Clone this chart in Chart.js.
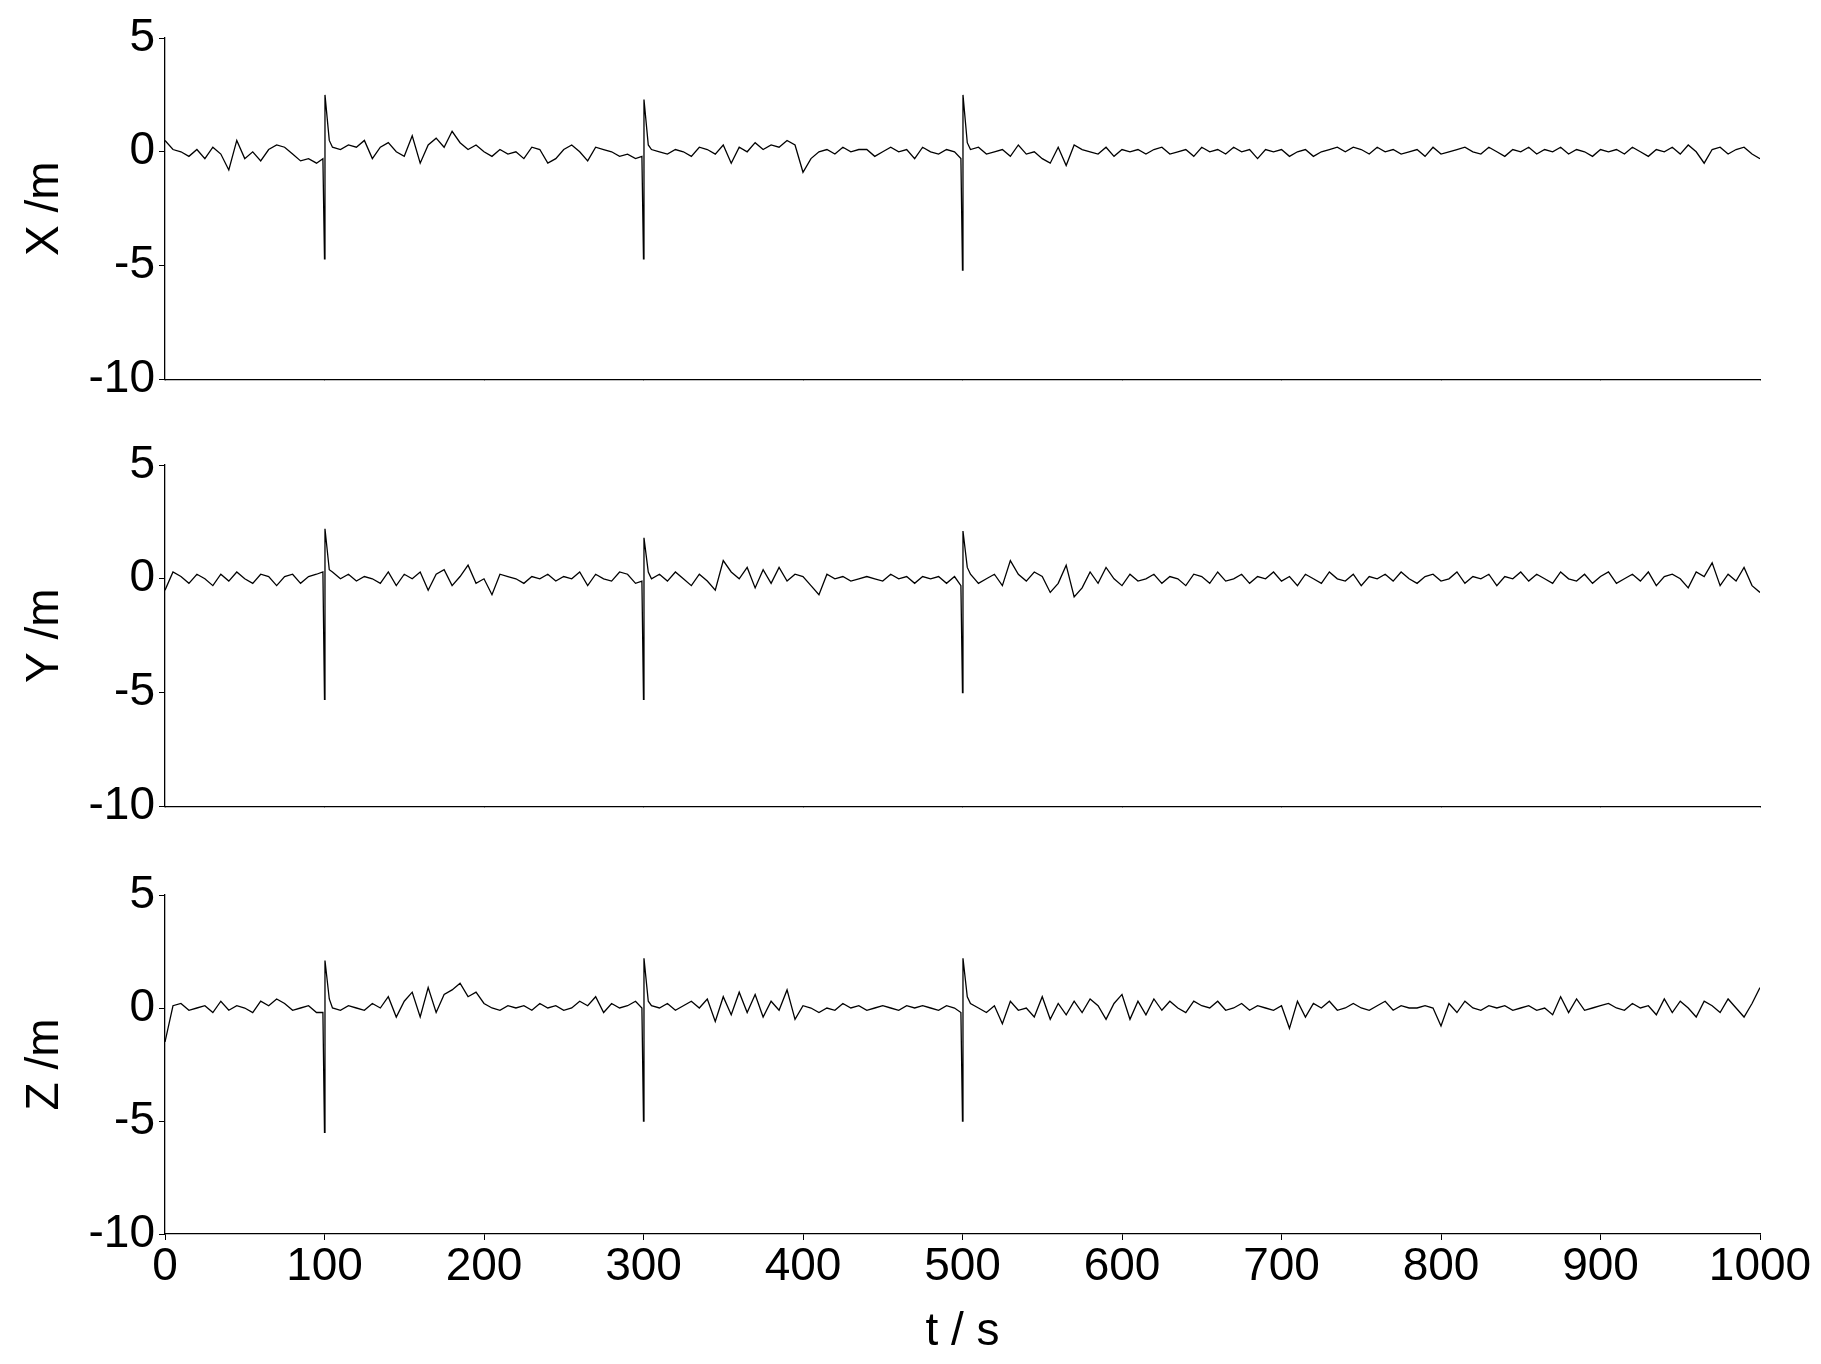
<!DOCTYPE html>
<html><head><meta charset="utf-8">
<script src="https://cdn.jsdelivr.net/npm/chart.js@4/dist/chart.umd.min.js"></script>
<style>body{margin:0;background:#fff;width:1821px;height:1364px;position:relative;overflow:hidden}
canvas{position:absolute;left:0}</style></head><body>
<div id="c1" style="position:absolute;left:0;top:0;width:1821px;height:411px"><canvas id="a"></canvas></div>
<div id="c2" style="position:absolute;left:0;top:418px;width:1821px;height:420px"><canvas id="b"></canvas></div>
<div id="c3" style="position:absolute;left:0;top:850px;width:1821px;height:514px"><canvas id="c"></canvas></div>
<script>
const timeS=[0,5,10,15,20,25,30,35,40,45,50,55,60,65,70,75,80,85,90,95,
99,100,100.3,103,
105,110,115,120,125,130,135,140,145,150,155,160,165,170,175,180,185,190,195,200,205,210,215,220,225,230,235,240,245,250,255,260,265,270,275,280,285,290,295,
299,300,300.3,303,
305,310,315,320,325,330,335,340,345,350,355,360,365,370,375,380,385,390,395,400,405,410,415,420,425,430,435,440,445,450,455,460,465,470,475,480,485,490,495,
499,500,500.3,503,
505,510,515,520,525,530,535,540,545,550,555,560,565,570,575,580,585,590,595,600,605,610,615,620,625,630,635,640,645,650,655,660,665,670,675,680,685,690,695,700,
705,710,715,720,725,730,735,740,745,750,755,760,765,770,775,780,785,790,795,800,805,810,815,820,825,830,835,840,845,850,855,860,865,870,875,880,885,890,895,900,
905,910,915,920,925,930,935,940,945,950,955,960,965,970,975,980,985,990,995,1000];
const xValues=[0.5,0.1,0.0,-0.2,0.1,-0.3,0.2,-0.1,-0.8,0.5,-0.3,0.0,-0.4,0.1,0.3,0.2,-0.1,-0.4,-0.3,-0.5,
-0.3,-4.7,2.5,0.5,
0.2,0.1,0.3,0.2,0.5,-0.3,0.2,0.4,0.0,-0.2,0.7,-0.5,0.3,0.6,0.2,0.9,0.4,0.1,0.3,0.0,-0.2,0.1,-0.1,0.0,-0.3,0.2,0.1,-0.5,-0.3,0.1,0.3,0.0,-0.4,0.2,0.1,0.0,-0.2,-0.1,-0.3,
-0.2,-4.7,2.3,0.3,
0.1,0.0,-0.1,0.1,0.0,-0.2,0.2,0.1,-0.1,0.3,-0.5,0.2,0.0,0.4,0.1,0.3,0.2,0.5,0.3,-0.9,-0.3,0.0,0.1,-0.1,0.2,0.0,0.1,0.1,-0.2,0.0,0.2,0.0,0.1,-0.3,0.2,0.0,-0.1,0.1,0.0,
-0.3,-5.2,2.5,0.4,
0.1,0.2,-0.1,0.0,0.1,-0.2,0.3,-0.1,0.0,-0.3,-0.5,0.2,-0.6,0.3,0.1,0.0,-0.1,0.2,-0.2,0.1,0.0,0.1,-0.1,0.1,0.2,-0.1,0.0,0.1,-0.2,0.2,0.0,0.1,-0.1,0.2,0.0,0.1,-0.3,0.1,0.0,0.1,
-0.2,0.0,0.1,-0.2,0.0,0.1,0.2,0.0,0.2,0.1,-0.1,0.2,0.0,0.1,-0.1,0.0,0.1,-0.2,0.2,-0.1,0.0,0.1,0.2,0.0,-0.1,0.2,0.0,-0.2,0.1,0.0,0.2,-0.1,0.1,0.0,0.2,-0.1,0.1,0.0,-0.2,0.1,
0.0,0.1,-0.1,0.2,0.0,-0.2,0.1,0.0,0.2,-0.1,0.3,0.0,-0.5,0.1,0.2,-0.1,0.1,0.2,-0.1,-0.3];
const yValues=[-0.5,0.3,0.1,-0.2,0.2,0.0,-0.3,0.2,-0.1,0.3,0.0,-0.2,0.2,0.1,-0.3,0.1,0.2,-0.2,0.1,0.2,
0.3,-5.3,2.2,0.4,
0.3,0.0,0.2,-0.1,0.1,0.0,-0.2,0.3,-0.3,0.2,0.0,0.3,-0.5,0.2,0.4,-0.3,0.1,0.6,-0.2,0.0,-0.7,0.2,0.1,0.0,-0.2,0.1,0.0,0.2,-0.1,0.1,0.0,0.3,-0.3,0.2,0.0,-0.1,0.3,0.2,-0.2,
-0.1,-5.3,1.8,0.3,
0.0,0.2,-0.1,0.3,0.0,-0.3,0.2,-0.1,-0.5,0.8,0.3,0.0,0.5,-0.4,0.4,-0.2,0.5,-0.1,0.2,0.1,-0.3,-0.7,0.2,0.0,0.1,-0.1,0.0,0.1,0.0,-0.1,0.2,0.0,0.1,-0.2,0.1,0.0,0.1,-0.2,0.1,
-0.3,-5.0,2.1,0.5,
0.2,-0.2,0.0,0.2,-0.3,0.8,0.2,-0.1,0.3,0.1,-0.6,-0.2,0.6,-0.8,-0.4,0.3,-0.2,0.5,0.0,-0.3,0.2,-0.1,0.0,0.2,-0.2,0.1,0.0,-0.3,0.2,0.1,-0.2,0.3,-0.1,0.0,0.2,-0.2,0.1,0.0,0.3,-0.1,
0.1,-0.3,0.2,0.0,-0.2,0.3,0.0,-0.1,0.2,-0.3,0.1,0.0,0.2,-0.1,0.3,0.0,-0.2,0.1,0.2,-0.1,0.0,0.3,-0.2,0.1,0.0,0.2,-0.3,0.1,0.0,0.3,-0.1,0.2,0.0,-0.2,0.3,0.0,-0.1,0.2,-0.2,0.1,
0.3,-0.2,0.0,0.2,-0.1,0.3,-0.3,0.1,0.2,0.0,-0.4,0.3,0.1,0.7,-0.3,0.2,-0.1,0.5,-0.3,-0.6];
const zValues=[-1.5,0.1,0.2,-0.1,0.0,0.1,-0.2,0.3,-0.1,0.1,0.0,-0.2,0.3,0.1,0.4,0.2,-0.1,0.0,0.1,-0.2,
-0.2,-5.5,2.1,0.4,
0.0,-0.1,0.1,0.0,-0.1,0.2,0.0,0.5,-0.4,0.3,0.7,-0.4,0.9,-0.2,0.6,0.8,1.1,0.5,0.7,0.2,0.0,-0.1,0.1,0.0,0.1,-0.1,0.2,0.0,0.1,-0.1,0.0,0.3,0.1,0.5,-0.2,0.2,0.0,0.1,0.3,
0.0,-5.0,2.2,0.3,
0.1,0.0,0.2,-0.1,0.1,0.3,0.0,0.4,-0.6,0.5,-0.3,0.7,-0.2,0.6,-0.4,0.3,-0.1,0.8,-0.5,0.1,0.0,-0.2,0.0,-0.1,0.2,0.0,0.1,-0.1,0.0,0.1,0.0,-0.1,0.1,0.0,0.1,0.0,-0.1,0.1,0.0,
-0.2,-5.0,2.2,0.5,
0.2,0.0,-0.2,0.1,-0.7,0.3,-0.1,0.0,-0.4,0.5,-0.5,0.2,-0.3,0.3,-0.2,0.4,0.1,-0.5,0.2,0.6,-0.5,0.3,-0.3,0.4,-0.1,0.3,0.0,-0.2,0.3,0.1,0.0,0.3,-0.1,0.0,0.2,-0.1,0.1,0.0,-0.1,0.1,
-0.9,0.3,-0.4,0.2,0.0,0.3,-0.1,0.0,0.2,0.0,-0.1,0.1,0.3,-0.1,0.1,0.0,0.0,0.1,0.0,-0.8,0.2,-0.2,0.3,0.0,-0.1,0.1,0.0,0.1,-0.1,0.0,0.1,-0.1,0.0,-0.3,0.5,-0.2,0.4,-0.1,0.0,0.1,
0.2,0.0,-0.1,0.2,0.0,0.1,-0.3,0.4,-0.2,0.3,0.0,-0.4,0.3,0.1,-0.2,0.4,0.0,-0.4,0.2,0.9];
const yTicks=[5,0,-5,-10];
const xTicks=[0,100,200,300,400,500,600,700,800,900,1000];
const yTitles=['X /m','Y /m','Z /m'];
const FONT='"Liberation Sans", Arial, sans-serif';
Chart.defaults.font.family=FONT;
function make(id,vals,title,last,pad){
  new Chart(document.getElementById(id),{
    type:'line',
    data:{datasets:[{data:timeS.map((t,i)=>({x:t,y:vals[i]})),borderColor:'#000',borderWidth:1.3,pointRadius:0,tension:0}]},
    options:{responsive:true,maintainAspectRatio:false,animation:false,
      layout:{padding:pad},
      plugins:{legend:{display:false},tooltip:{enabled:false}},
      scales:{
        x:{type:'linear',min:0,max:1000,
          afterFit:s=>{s.height=last?130:0;},
          afterBuildTicks:s=>{s.ticks=xTicks.map(v=>({value:v}));},
          ticks:{display:last,color:'#000',font:{size:46},maxRotation:0,padding:0,callback:v=>String(v)},
          grid:{drawOnChartArea:false,tickLength:last?6:0,color:'#000'},
          border:{color:'#000',width:1.3},
          title:{display:last,text:'t / s',color:'#000',font:{size:46},padding:{top:-8}}},
        y:{min:-10,max:5,
          afterFit:s=>{s.width=147;},
          afterBuildTicks:s=>{s.ticks=yTicks.map(v=>({value:v}));},
          ticks:{color:'#000',font:{size:46},padding:4,callback:v=>String(v)},
          grid:{drawOnChartArea:false,tickLength:6,color:'#000'},
          border:{color:'#000',width:1.3},
          title:{display:true,text:title,color:'#000',font:{size:46},padding:{bottom:0,top:0}}}
      }}
  });
}
make('a',xValues,yTitles[0],false,{top:38,bottom:10,right:61,left:18});
make('b',yValues,yTitles[1],false,{top:47,bottom:9,right:61,left:18});
make('c',zValues,yTitles[2],true,{top:45,bottom:0,right:61,left:18});
</script></body></html>
